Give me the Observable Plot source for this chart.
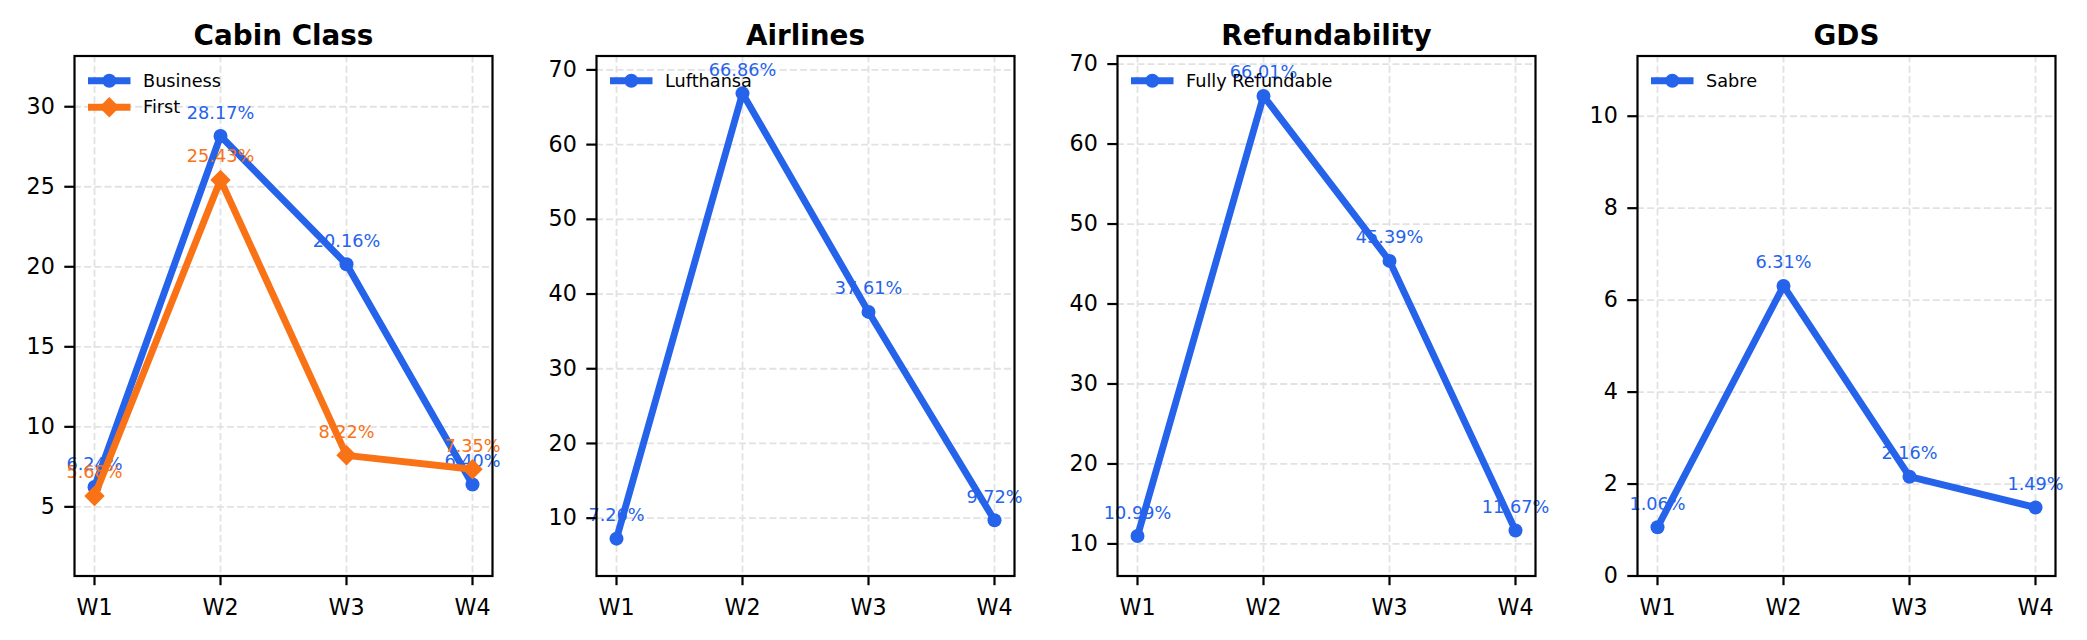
<!DOCTYPE html>
<html>
<head>
<meta charset="utf-8">
<script src="https://cdn.jsdelivr.net/npm/d3@7"></script>
<script src="https://cdn.jsdelivr.net/npm/@observablehq/plot@0.6"></script>
<style>
  html, body { margin: 0; padding: 0; background: white; }
  #wrap { position: relative; width: 2087px; height: 640px; background: white; overflow: hidden; }
  #wrap svg { position: absolute; top: 0; }
</style>
</head>
<body>
<div id="wrap"></div>
<script>
// ---- data ----
const weeks = ["W1", "W2", "W3", "W4"];
const panelTitles = ["Cabin Class", "Airlines", "Refundability", "GDS"];
const businessShare = [6.24, 28.17, 20.16, 6.40];
const firstShare = [5.68, 25.43, 8.22, 7.35];
const lufthansaShare = [7.26, 66.86, 37.61, 9.72];
const fullyRefundableShare = [10.99, 66.01, 45.39, 11.67];
const sabreShare = [1.06, 6.31, 2.16, 1.49];
const cabinTicks = [5, 10, 15, 20, 25, 30];
const airlineTicks = [10, 20, 30, 40, 50, 60, 70];
const refundTicks = [10, 20, 30, 40, 50, 60, 70];
const gdsTicks = [0, 2, 4, 6, 8, 10];

// ---- styling / layout ----
const BLUE = "#2563eb", ORANGE = "#f97316";
const frameLefts = [74.3, 596, 1116.7, 1637];
const frameW = 418, frameTop = 55.5, frameBottom = 575.5, H = 640;
const ML = 74, MR = 14;
const gridColor = "#e2e2e2";

const panels = [
  {title: panelTitles[0], ticks: cabinTicks, series: [
    {name: "Business", values: businessShare, color: BLUE, symbol: "circle"},
    {name: "First", values: firstShare, color: ORANGE, symbol: "diamond2"}]},
  {title: panelTitles[1], ticks: airlineTicks, series: [
    {name: "Lufthansa", values: lufthansaShare, color: BLUE, symbol: "circle"}]},
  {title: panelTitles[2], ticks: refundTicks, series: [
    {name: "Fully Refundable", values: fullyRefundableShare, color: BLUE, symbol: "circle"}]},
  {title: panelTitles[3], ticks: gdsTicks, series: [
    {name: "Sabre", values: sabreShare, color: BLUE, symbol: "circle"}]}
];

const wrap = document.getElementById("wrap");

panels.forEach((p, pi) => {
  const seriesRows = p.series.map(s => s.values.map((v, i) => ({week: weeks[i], value: v, series: s.name})));
  const allVals = p.series.flatMap(s => s.values);
  const lo = Math.max(0, d3.min(allVals) - 5), hi = d3.max(allVals) + 5;

  const marks = [
    Plot.ruleX(weeks, {x: d => d, stroke: gridColor, strokeWidth: 1.8, strokeDasharray: "7,3.2"}),
    Plot.ruleY(p.ticks, {y: d => d, stroke: gridColor, strokeWidth: 1.8, strokeDasharray: "7,3.2"}),
  ];
  p.series.forEach((s, si) => {
    const rows = seriesRows[si];
    const isD = s.symbol === "diamond2";
    marks.push(
      Plot.line(rows, {x: "week", y: "value", stroke: s.color, strokeWidth: 6.9, strokeLinejoin: "round", strokeLinecap: "butt"}),
      Plot.dot(rows, {x: "week", y: "value", fill: s.color, stroke: "none", r: isD ? 9.2 : 7, symbol: s.symbol}),
      Plot.text(rows, {x: "week", y: "value", text: d => d.value.toFixed(2) + "%", fill: s.color,
        fontSize: 17.7, dy: -17.5, lineAnchor: "bottom", textAnchor: "middle"})
    );
  });
  marks.push(
    Plot.frame({stroke: "black", strokeWidth: 2.2}),
    Plot.axisY(p.ticks, {tickSize: 9.7, tickPadding: 10, fontSize: 22.2, strokeWidth: 2.2, stroke: "black", fill: "black", label: null}),
    Plot.axisX(weeks, {tickSize: 9.7, tickPadding: 14, fontSize: 22.2, strokeWidth: 2.2, stroke: "black", fill: "black", label: null}),
    Plot.text([p.title], {frameAnchor: "top", dy: -11.5, lineAnchor: "bottom", fontSize: 27.8, fontWeight: "bold", fill: "black"})
  );

  const svg = Plot.plot({
    width: ML + frameW + MR, height: H,
    marginTop: frameTop, marginBottom: H - frameBottom, marginLeft: ML, marginRight: MR,
    style: {fontFamily: "'DejaVu Sans', sans-serif", color: "black", background: "transparent", overflow: "visible"},
    x: {type: "point", domain: weeks, padding: 0.15},
    y: {domain: [lo, hi]},
    marks
  });
  svg.style.left = (frameLefts[pi] - ML) + "px";
  wrap.appendChild(svg);

  // legend (upper-left, inside frame)
  const g = d3.select(svg).append("g").attr("transform", `translate(${ML},${frameTop})`);
  p.series.forEach((s, si) => {
    const y = 25.2 + si * 26.6;
    g.append("line").attr("x1", 14).attr("x2", 56.5).attr("y1", y).attr("y2", y)
      .attr("stroke", s.color).attr("stroke-width", 6.9);
    const sym = s.symbol === "diamond2" ? d3.symbolDiamond2 : d3.symbolCircle;
    const r = s.symbol === "diamond2" ? 9.2 : 7;
    g.append("path").attr("d", d3.symbol(sym, Math.PI * r * r)())
      .attr("transform", `translate(35.3,${y})`).attr("fill", s.color);
    g.append("text").attr("x", 69).attr("y", y).attr("dy", "0.35em")
      .attr("text-anchor", "start").style("text-anchor", "start")
      .attr("font-size", 17.7).attr("fill", "black").text(s.name);
  });
});
</script>
</body>
</html>
